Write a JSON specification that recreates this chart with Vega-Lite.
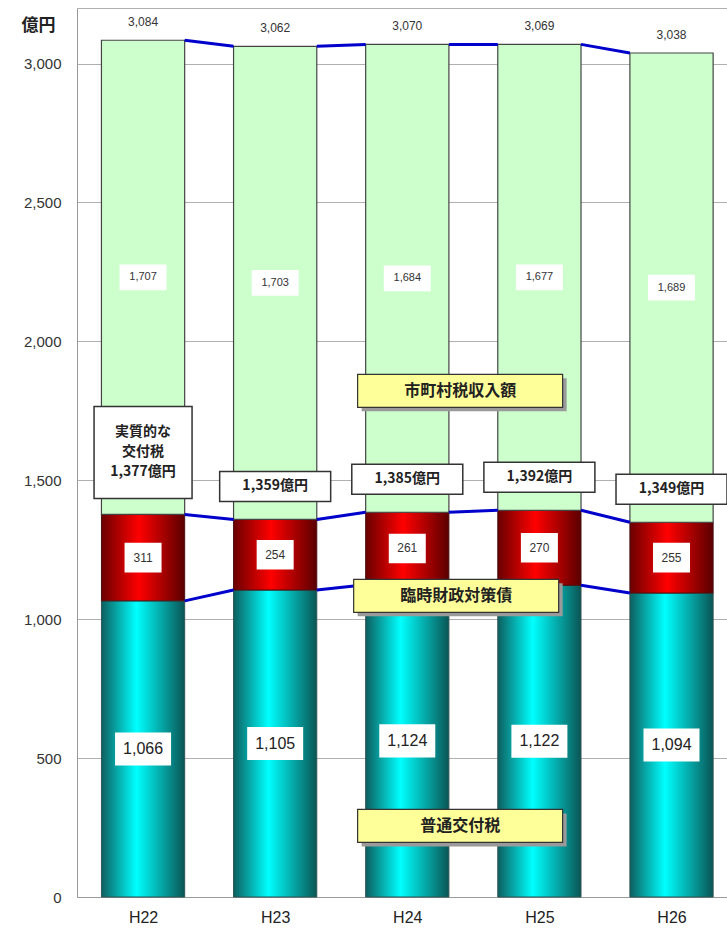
{
  "$schema": "https://vega.github.io/schema/vega-lite/v6.json",
  "width": 650,
  "height": 889,
  "autosize": "none",
  "padding": {"left": 77, "top": 8, "right": 0, "bottom": 36},
  "background": "white",
  "config": {
    "view": {"stroke": null},
    "font": "Liberation Sans"
  },
  "layer": [
    {
      "data": {
        "values": [
          {"year": "H22", "idx": 0, "series": "普通交付税", "order": 1, "value": 1066},
          {"year": "H22", "idx": 0, "series": "臨時財政対策債", "order": 2, "value": 311},
          {"year": "H22", "idx": 0, "series": "市町村税収入額", "order": 3, "value": 1707, "top": 3084},
          {"year": "H23", "idx": 1, "series": "普通交付税", "order": 1, "value": 1105},
          {"year": "H23", "idx": 1, "series": "臨時財政対策債", "order": 2, "value": 254},
          {"year": "H23", "idx": 1, "series": "市町村税収入額", "order": 3, "value": 1703, "top": 3062},
          {"year": "H24", "idx": 2, "series": "普通交付税", "order": 1, "value": 1124},
          {"year": "H24", "idx": 2, "series": "臨時財政対策債", "order": 2, "value": 261},
          {"year": "H24", "idx": 2, "series": "市町村税収入額", "order": 3, "value": 1684, "top": 3070},
          {"year": "H25", "idx": 3, "series": "普通交付税", "order": 1, "value": 1122},
          {"year": "H25", "idx": 3, "series": "臨時財政対策債", "order": 2, "value": 270},
          {"year": "H25", "idx": 3, "series": "市町村税収入額", "order": 3, "value": 1677, "top": 3069},
          {"year": "H26", "idx": 4, "series": "普通交付税", "order": 1, "value": 1094},
          {"year": "H26", "idx": 4, "series": "臨時財政対策債", "order": 2, "value": 255},
          {"year": "H26", "idx": 4, "series": "市町村税収入額", "order": 3, "value": 1689, "top": 3038}
        ]
      },
      "transform": [
        {"stack": "value", "groupby": ["year"], "sort": [{"field": "order", "order": "ascending"}], "as": ["y0", "y1"]},
        {"calculate": "(datum.y0 + datum.y1) / 2", "as": "mid"},
        {"calculate": "datum.idx - 0.315", "as": "xl"},
        {"calculate": "datum.idx + 0.315", "as": "xr"},
        {"calculate": "datum.idx + 0.685", "as": "xn"},
        {"window": [{"op": "lead", "field": "y1", "as": "next"}], "groupby": ["series"], "sort": [{"field": "idx", "order": "ascending"}]}
      ],
      "layer": [
        {
          "transform": [{"filter": "datum.series == '普通交付税'"}],
          "mark": {
            "type": "bar",
            "stroke": "#2f5555",
            "strokeWidth": 1,
            "fill": {
              "gradient": "linear", "x1": 0, "x2": 1, "y1": 0, "y2": 0,
              "stops": [
                {"offset": 0, "color": "#0d5f5f"},
                {"offset": 0.42, "color": "#00ffff"},
                {"offset": 1, "color": "#0a5555"}
              ]
            }
          },
          "encoding": {
            "x": {"field": "xl", "type": "quantitative", "scale": {"domain": [-0.5, 4.42], "nice": false, "zero": false},
              "axis": {"values": [0, 1, 2, 3, 4], "labelExpr": "['H22','H23','H24','H25','H26'][datum.value]", "title": null, "grid": false, "ticks": false, "domainColor": "#999999", "labelFontSize": 16, "labelColor": "#222222", "labelPadding": 12, "labelFont": "Liberation Sans"}},
            "x2": {"field": "xr"},
            "y": {"field": "y0", "type": "quantitative", "scale": {"domain": [0, 3200], "nice": false},
              "axis": {"values": [0, 500, 1000, 1500, 2000, 2500, 3000, 3200], "labelExpr": "datum.value == 3200 ? '' : format(datum.value, ',')", "title": "億円", "titleAngle": 0, "titleX": -39, "titleY": 17, "titleAlign": "center", "titleBaseline": "middle", "titleFont": "Noto Sans CJK JP", "titleFontSize": 17, "titleFontWeight": "bold", "titleColor": "#222222", "grid": true, "gridColor": "#b0b0b0", "ticks": false, "domainColor": "#999999", "labelFontSize": 15, "labelColor": "#333333", "labelPadding": 16, "labelFont": "Liberation Sans"}},
            "y2": {"field": "y1"}
          }
        },
        {
          "transform": [{"filter": "datum.series == '臨時財政対策債'"}],
          "mark": {
            "type": "bar",
            "stroke": "#4a1010",
            "strokeWidth": 1,
            "fill": {
              "gradient": "linear", "x1": 0, "x2": 1, "y1": 0, "y2": 0,
              "stops": [
                {"offset": 0, "color": "#6a0000"},
                {"offset": 0.45, "color": "#ff0000"},
                {"offset": 1, "color": "#5a0000"}
              ]
            }
          },
          "encoding": {
            "x": {"field": "xl", "type": "quantitative"},
            "x2": {"field": "xr"},
            "y": {"field": "y0", "type": "quantitative"},
            "y2": {"field": "y1"}
          }
        },
        {
          "transform": [{"filter": "datum.series == '市町村税収入額'"}],
          "mark": {"type": "bar", "fill": "#ccffcc", "stroke": "#444444", "strokeWidth": 1.2},
          "encoding": {
            "x": {"field": "xl", "type": "quantitative"},
            "x2": {"field": "xr"},
            "y": {"field": "y0", "type": "quantitative"},
            "y2": {"field": "y1"}
          }
        },
        {
          "transform": [{"filter": "datum.next != null"}],
          "mark": {"type": "rule", "color": "#0000cc", "strokeWidth": 3},
          "encoding": {
            "x": {"field": "xr", "type": "quantitative"},
            "x2": {"field": "xn"},
            "y": {"field": "y1", "type": "quantitative"},
            "y2": {"field": "next"}
          }
        },
        {
          "transform": [{"filter": "datum.series == '市町村税収入額'"}],
          "layer": [
            {
              "mark": {"type": "point", "shape": "M-1,-0.55H1V0.55H-1Z", "size": 2209, "filled": true, "fill": "white", "opacity": 1, "strokeWidth": 0},
              "encoding": {
                "x": {"field": "idx", "type": "quantitative"},
                "y": {"field": "mid", "type": "quantitative"}
              }
            },
            {
              "mark": {"type": "text", "fontSize": 11, "color": "#333333", "baseline": "middle", "align": "center", "font": "Liberation Sans"},
              "encoding": {
                "x": {"field": "idx", "type": "quantitative"},
                "y": {"field": "mid", "type": "quantitative"},
                "text": {"field": "value", "type": "quantitative", "format": ","}
              }
            },
            {
              "mark": {"type": "text", "fontSize": 12, "color": "#333333", "baseline": "middle", "align": "center", "dy": -18, "font": "Liberation Sans"},
              "encoding": {
                "x": {"field": "idx", "type": "quantitative"},
                "y": {"field": "y1", "type": "quantitative"},
                "text": {"field": "top", "type": "quantitative", "format": ","}
              }
            }
          ]
        },
        {
          "transform": [{"filter": "datum.series == '臨時財政対策債'"}],
          "layer": [
            {
              "mark": {"type": "point", "shape": "M-1,-0.8H1V0.8H-1Z", "size": 1369, "filled": true, "fill": "white", "opacity": 1, "strokeWidth": 0},
              "encoding": {
                "x": {"field": "idx", "type": "quantitative"},
                "y": {"field": "mid", "type": "quantitative"}
              }
            },
            {
              "mark": {"type": "text", "fontSize": 12, "color": "#333333", "baseline": "middle", "align": "center", "font": "Liberation Sans"},
              "encoding": {
                "x": {"field": "idx", "type": "quantitative"},
                "y": {"field": "mid", "type": "quantitative"},
                "text": {"field": "value", "type": "quantitative", "format": ","}
              }
            },
            {
              "transform": [{"filter": "datum.idx > 0"}],
              "mark": {"type": "point", "shape": "M-1,-0.865H1V-0.325H-1Z", "size": 12321, "filled": true, "fill": "white", "opacity": 1, "stroke": "#333333", "strokeWidth": 1.5},
              "encoding": {
                "x": {"field": "idx", "type": "quantitative"},
                "y": {"field": "y1", "type": "quantitative"}
              }
            },
            {
              "transform": [{"filter": "datum.idx > 0"}, {"calculate": "format(datum.y1, ',') + '億円'", "as": "sub"}],
              "mark": {"type": "text", "fontSize": 14, "fontWeight": "bold", "color": "#222222", "baseline": "middle", "align": "center", "dy": -33, "font": "Noto Sans CJK JP"},
              "encoding": {
                "x": {"field": "idx", "type": "quantitative"},
                "y": {"field": "y1", "type": "quantitative"},
                "text": {"field": "sub", "type": "nominal"}
              }
            },
            {
              "transform": [{"filter": "datum.idx == 0"}],
              "mark": {"type": "point", "shape": "M-1,-2.204H1V-0.326H-1Z", "size": 9604, "filled": true, "fill": "white", "opacity": 1, "stroke": "#333333", "strokeWidth": 1.5},
              "encoding": {
                "x": {"field": "idx", "type": "quantitative"},
                "y": {"field": "y1", "type": "quantitative"}
              }
            },
            {
              "transform": [{"filter": "datum.idx == 0"}, {"calculate": "'実質的な\\n交付税\\n' + format(datum.y1, ',') + '億円'", "as": "sub"}],
              "mark": {"type": "text", "fontSize": 14, "fontWeight": "bold", "color": "#222222", "baseline": "middle", "align": "center", "dy": -82, "lineHeight": 20, "lineBreak": "\n", "font": "Noto Sans CJK JP"},
              "encoding": {
                "x": {"field": "idx", "type": "quantitative"},
                "y": {"field": "y1", "type": "quantitative"},
                "text": {"field": "sub", "type": "nominal"}
              }
            }
          ]
        },
        {
          "transform": [{"filter": "datum.series == '普通交付税'"}],
          "layer": [
            {
              "mark": {"type": "point", "shape": "M-1,-0.59H1V0.59H-1Z", "size": 3136, "filled": true, "fill": "white", "opacity": 1, "strokeWidth": 0},
              "encoding": {
                "x": {"field": "idx", "type": "quantitative"},
                "y": {"field": "mid", "type": "quantitative"}
              }
            },
            {
              "mark": {"type": "text", "fontSize": 16, "color": "#222222", "baseline": "middle", "align": "center", "font": "Liberation Sans"},
              "encoding": {
                "x": {"field": "idx", "type": "quantitative"},
                "y": {"field": "mid", "type": "quantitative"},
                "text": {"field": "value", "type": "quantitative", "format": ","}
              }
            }
          ]
        }
      ]
    },
    {
      "data": {
        "values": [
          {"label": "市町村税収入額", "pos": 2.4, "level": 1822},
          {"label": "臨時財政対策債", "pos": 2.37, "level": 1084},
          {"label": "普通交付税", "pos": 2.4, "level": 256}
        ]
      },
      "layer": [
        {
          "mark": {"type": "point", "shape": "M-0.961,-0.122H1.039V0.2H-0.961Z", "size": 42025, "filled": true, "fill": "#9a9a9a", "opacity": 1, "strokeWidth": 0},
          "encoding": {
            "x": {"field": "pos", "type": "quantitative"},
            "y": {"field": "level", "type": "quantitative"}
          }
        },
        {
          "mark": {"type": "point", "shape": "M-1,-0.161H1V0.161H-1Z", "size": 42025, "filled": true, "fill": "#ffff99", "opacity": 1, "stroke": "#333333", "strokeWidth": 1.2},
          "encoding": {
            "x": {"field": "pos", "type": "quantitative"},
            "y": {"field": "level", "type": "quantitative"}
          }
        },
        {
          "mark": {"type": "text", "fontSize": 16, "fontWeight": "bold", "color": "#222222", "baseline": "middle", "align": "center", "font": "Noto Sans CJK JP"},
          "encoding": {
            "x": {"field": "pos", "type": "quantitative"},
            "y": {"field": "level", "type": "quantitative"},
            "text": {"field": "label", "type": "nominal"}
          }
        }
      ]
    }
  ]
}
